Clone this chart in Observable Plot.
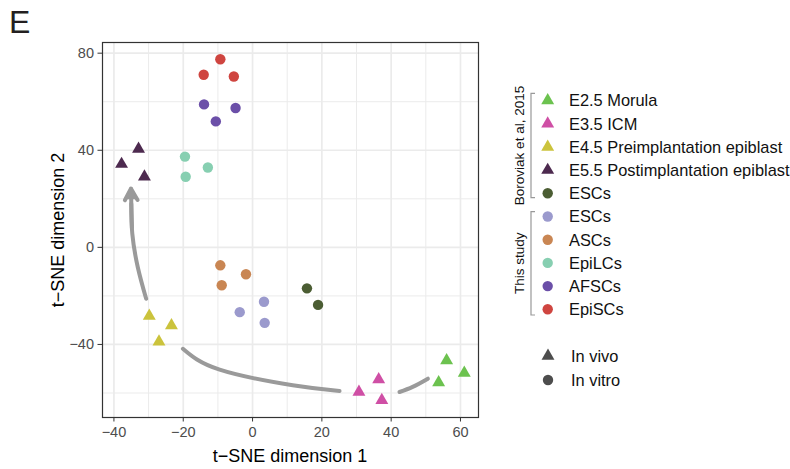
<!DOCTYPE html>
<html><head><meta charset="utf-8">
<script src="https://cdn.jsdelivr.net/npm/d3@7"></script>
<script src="https://cdn.jsdelivr.net/npm/@observablehq/plot@0.6"></script>
<style>
body{margin:0;background:#fff;font-family:"Liberation Sans",Arial,sans-serif;}
#wrap{position:relative;width:790px;height:469px;overflow:hidden;background:#fff;}
#chart{position:absolute;left:0;top:0;}
#overlay{position:absolute;left:0;top:0;pointer-events:none;}
</style></head><body>
<div id="wrap"><div id="chart"></div></div>
<script>
// ---- groups ----
const groupKeys   = ["morula","icm","pre","post","escB","esc","asc","epilc","afsc","episc"];
const groupLabels = ["E2.5 Morula","E3.5 ICM","E4.5 Preimplantation epiblast","E5.5 Postimplantation epiblast","ESCs","ESCs","ASCs","EpiLCs","AFSCs","EpiSCs"];
const groupColors = ["#6cc24f","#cf4fa5","#cbc33c","#4d2a4f","#4b5d33","#9b9acd","#c98653","#87cfb1","#6b4fa8","#cf4540"];
const groupShapes = ["triangle","triangle","triangle","triangle","circle","circle","circle","circle","circle","circle"];
const bracketLabels = ["Boroviak et al, 2015","This study"];
const shapeLabels = ["In vivo","In vitro"];

// ---- t-SNE coordinates ----
const morulaX = [56.0, 61.1, 53.7],   morulaY = [-46.6, -51.8, -55.7];
const icmX    = [30.7, 36.4, 37.3],   icmY    = [-59.6, -54.4, -63.0];
const preX    = [-29.8, -23.4, -27.0],preY    = [-28.3, -32.2, -38.9];
const postX   = [-32.9, -37.8, -31.2],postY   = [40.5, 34.3, 29.1];
const escBX   = [15.7, 18.9],         escBY   = [-16.9, -23.7];
const escX    = [3.3, -3.7, 3.5],     escY    = [-22.4, -26.7, -31.1];
const ascX    = [-9.3, -1.9, -8.9],   ascY    = [-7.4, -11.1, -15.6];
const epilcX  = [-19.5, -12.9, -19.3],epilcY  = [37.4, 32.9, 29.1];
const afscX   = [-14.0, -4.9, -10.6], afscY   = [58.9, 57.4, 51.9];
const episcX  = [-9.3, -14.1, -5.4],  episcY  = [77.5, 71.1, 70.4];

// ---- trajectory annotations ----
const shaftX = [-30.7, -33.1, -34.7, -35.0], shaftY = [-21.2, -8.3, 5.6, 18.0];
const headX = [-34.8, -35.1], headY = [8.0, 24.2];
const headFillX = [-35.1], headFillY = [21.2];
const lowLeftX = [-20.1, -9.5, 11.6, 25.1], lowLeftY = [-41.8, -50.4, -56.8, -59.2];
const lowRightX = [42.4, 46.2, 50.6], lowRightY = [-59.6, -57.5, -54.1];

// ---- ticks ----
const xTicks = [-40, -20, 0, 20, 40, 60];
const xMinor = [-30, -10, 10, 30, 50];
const yTicks = [-40, 0, 40, 80];
const yMinor = [-60, -20, 20, 60];

const xs = [morulaX, icmX, preX, postX, escBX, escX, ascX, epilcX, afscX, episcX];
const ys = [morulaY, icmY, preY, postY, escBY, escY, ascY, epilcY, afscY, episcY];
const points = [];
groupKeys.forEach((k, i) => xs[i].forEach((x, j) => points.push({x, y: ys[i][j], color: groupColors[i], shape: groupShapes[i]})));
const toPts = (X, Y) => X.map((x, i) => ({x, y: Y[i]}));

const TRI_R = 4.8, CIR_R = 5.2;
const grid = "#ebebeb", arrowCol = "#9a9a9a";

const plot = Plot.plot({
  width: 480, height: 469,
  marginLeft: 102, marginRight: 2, marginTop: 42, marginBottom: 52,
  x: {domain: [-43.3, 65.2]},
  y: {domain: [-70.1, 84.4]},
  style: {fontFamily: "'Liberation Sans', Arial, sans-serif", background: "transparent"},
  marks: [
    Plot.ruleX(xMinor, {stroke: grid, strokeWidth: 1}),
    Plot.ruleY(yMinor, {stroke: grid, strokeWidth: 1}),
    Plot.ruleX(xTicks, {stroke: grid, strokeWidth: 1.7}),
    Plot.ruleY(yTicks, {stroke: grid, strokeWidth: 1.7}),
    Plot.line(toPts(lowLeftX, lowLeftY), {x: "x", y: "y", curve: "natural", stroke: arrowCol, strokeWidth: 4}),
    Plot.line(toPts(lowRightX, lowRightY), {x: "x", y: "y", curve: "natural", stroke: arrowCol, strokeWidth: 4}),
    Plot.line(toPts(shaftX, shaftY), {x: "x", y: "y", curve: "natural", stroke: arrowCol, strokeWidth: 4}),
    Plot.arrow([0], {x1: headX[0], y1: headY[0], x2: headX[1], y2: headY[1],
      headLength: 5.2, headAngle: 58, stroke: arrowCol, strokeWidth: 4}),
    Plot.dot(toPts(headFillX, headFillY), {x: "x", y: "y", symbol: "triangle", r: 4.2, fill: arrowCol}),
    Plot.dot(points.filter(d => d.shape === "circle"), {x: "x", y: "y", fill: "color", symbol: "circle", r: CIR_R}),
    Plot.dot(points.filter(d => d.shape === "triangle"), {x: "x", y: "y", fill: "color", symbol: "triangle", r: TRI_R}),
    Plot.frame({stroke: "#333", strokeWidth: 1.2}),
    Plot.axisX(xTicks, {tickSize: 4.5, tickPadding: 5, fontSize: 14.5, color: "#4d4d4d", stroke: "#333", label: null}),
    Plot.axisY(yTicks, {tickSize: 4.5, tickPadding: 4, fontSize: 14.5, color: "#4d4d4d", stroke: "#333", label: null})
  ]
});
document.getElementById("chart").appendChild(plot);

// ---- overlay: panel letter, axis titles, legend ----
const svg = d3.select("#wrap").append("svg").attr("id", "overlay")
  .attr("width", 790).attr("height", 469)
  .style("font-family", "'Liberation Sans', Arial, sans-serif");

svg.append("text").attr("x", 9).attr("y", 33).attr("font-size", 32).attr("fill", "#231f20").text("E");
svg.append("text").attr("x", 290).attr("y", 461.5).attr("text-anchor", "middle").attr("font-size", 18).attr("fill", "#000").text("t\u2212SNE dimension 1");
svg.append("text").attr("transform", "translate(63.5,230) rotate(-90)").attr("text-anchor", "middle").attr("font-size", 18).attr("fill", "#000").text("t\u2212SNE dimension 2");

const sym = (shape, r) => d3.symbol().type(shape === "triangle" ? d3.symbolTriangle : d3.symbolCircle).size(Math.PI * r * r)();
const itemY0 = 100.5, itemStep = 23.2;
groupLabels.forEach((lab, i) => {
  const cy = itemY0 + i * itemStep;
  svg.append("path").attr("d", sym(groupShapes[i], groupShapes[i] === "triangle" ? TRI_R : CIR_R))
    .attr("transform", `translate(547.7,${cy})`).attr("fill", groupColors[i]);
  svg.append("text").attr("x", 569).attr("y", cy + 5.8).attr("font-size", 16.4).attr("fill", "#111").text(lab);
});
// brackets
const brackets = [[93.3, 197.7], [211.7, 315]];
brackets.forEach(([a, b], i) => {
  svg.append("path").attr("d", `M535,${a}H531V${b}H535`).attr("fill", "none").attr("stroke", "#999").attr("stroke-width", 1.2);
  svg.append("text").attr("transform", `translate(523.5,${(a + b) / 2}) rotate(-90)`).attr("text-anchor", "middle")
    .attr("font-size", 13.5).attr("fill", "#111").text(bracketLabels[i]);
});
// shape legend
["triangle", "circle"].forEach((s, i) => {
  const cy = 356 + i * 24;
  svg.append("path").attr("d", sym(s, s === "triangle" ? TRI_R : CIR_R)).attr("transform", `translate(548,${cy})`).attr("fill", "#4d4d4d");
  svg.append("text").attr("x", 571).attr("y", cy + 5.8).attr("font-size", 16.4).attr("fill", "#111").text(shapeLabels[i]);
});
</script>
</body></html>
